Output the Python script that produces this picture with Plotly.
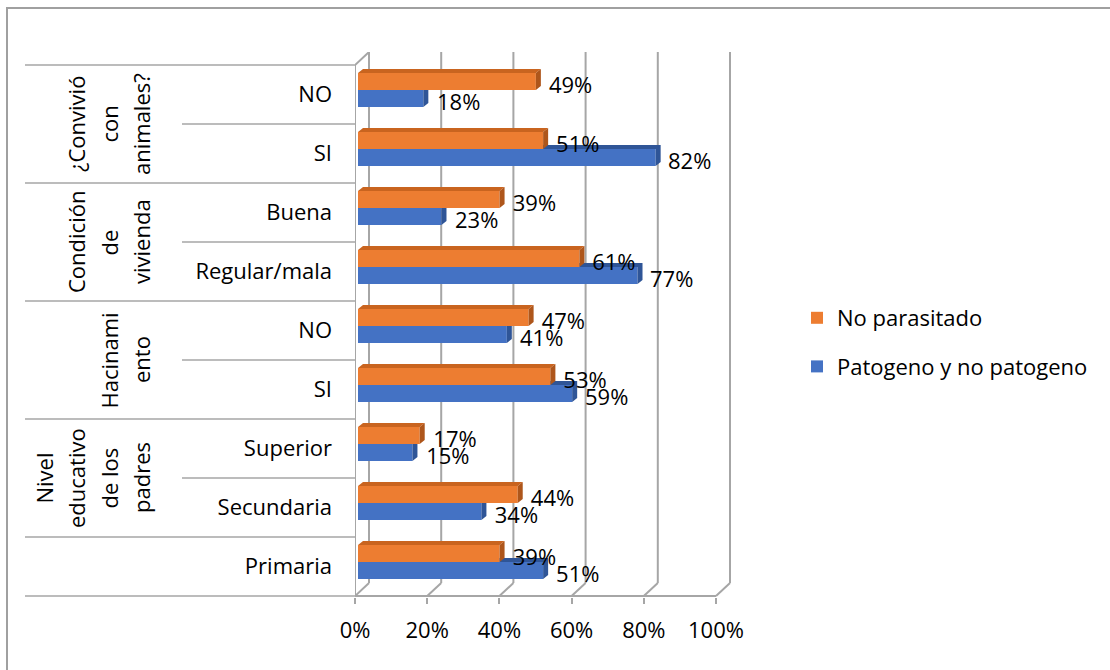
import plotly.graph_objects as go

# ---------------- data ----------------
categories = ["Primaria", "Secundaria", "Superior", "SI", "NO",
              "Regular/mala", "Buena", "SI", "NO"]
no_parasitado = [0.39, 0.44, 0.17, 0.53, 0.47, 0.61, 0.39, 0.51, 0.49]
patogeno = [0.51, 0.34, 0.15, 0.59, 0.41, 0.77, 0.23, 0.82, 0.18]
series_names = ["No parasitado", "Patogeno y no patogeno"]
group_sizes = [1, 2, 2, 2, 2]
group_labels = [[], ["Nivel", "educativo", "de los", "padres"], ["Hacinami", "ento"],
                ["Condición", "de", "vivienda"], ["¿Convivió", "con", "animales?"]]
x_ticks = [0, 0.2, 0.4, 0.6, 0.8, 1.0]
x_tick_labels = ["0%", "20%", "40%", "60%", "80%", "100%"]

# ---------------- style / layout constants ----------------
W, H = 1110, 670
L, R, T, B = 355, 370, 52, 73
PW, PH = W - L - R, H - T - B
FRONT_SCALE = 361.0        # px per 100% on the front axis
BAR_SCALE = 363.0          # px per 100% for the bars
ROW = 59.0                 # px per category row
BAR_SHIFT = 3              # px bars start right of front axis
LBL_SHIFT = 14             # px labels right of bar ends
DEPTH_X, DEPTH_Y = 14, 13  # px chart depth (back wall offset)
FACE_X, FACE_Y = 5, 4      # px bar depth
BW = 0.288
OFF_O, OFF_B = 0.076, -0.212
LBL_DY = -0.1
FONT = "Open Sans"
FS = 22
ORANGE, ORANGE_TOP, ORANGE_SIDE = "#ED7D31", "#C9641F", "#AE561B"
BLUE, BLUE_TOP, BLUE_SIDE = "#4472C4", "#35599C", "#2F5597"
GRID = "#A6A6A6"

n = len(categories)
ypos = list(range(n))
y_lo = -0.5 - 1 / ROW
y_hi = y_lo + PH / ROW

fig = go.Figure()

dx_f = FACE_X / BAR_SCALE
dy_f = FACE_Y / ROW

# faces of blue bars (drawn first)
bx, by = [], []
for i, (vo, vb) in enumerate(zip(no_parasitado, patogeno)):
    yb, yt = i + OFF_B, i + OFF_B + BW
    if vb > vo:
        bx += [vo, vb, vb + dx_f, vo, None]
        by += [yt, yt, yt + dy_f, yt + dy_f, None]
        bx += [vb, vb, vb + dx_f, vb + dx_f, None]
        by += [yb, yt, yt + dy_f, yb + dy_f, None]
    else:
        bx += [vb, vb, vb + dx_f, vb + dx_f, None]
        by += [yb, yt, yt, yb + dy_f, None]
fig.add_trace(go.Scatter(x=bx, y=by, xaxis="x2", mode="lines", fill="toself",
                         fillcolor=BLUE_SIDE, line=dict(width=0, color=BLUE_SIDE),
                         showlegend=False, hoverinfo="skip"))

ox_t, oy_t, ox_s, oy_s = [], [], [], []
for i, vo in enumerate(no_parasitado):
    yb, yt = i + OFF_O, i + OFF_O + BW
    ox_t += [0, vo, vo + dx_f, dx_f, None]
    oy_t += [yt, yt, yt + dy_f, yt + dy_f, None]
    ox_s += [vo, vo, vo + dx_f, vo + dx_f, None]
    oy_s += [yb, yt, yt + dy_f, yb + dy_f, None]
fig.add_trace(go.Scatter(x=ox_t, y=oy_t, xaxis="x2", mode="lines", fill="toself",
                         fillcolor=ORANGE_TOP, line=dict(width=0, color=ORANGE_TOP),
                         showlegend=False, hoverinfo="skip"))
fig.add_trace(go.Scatter(x=ox_s, y=oy_s, xaxis="x2", mode="lines", fill="toself",
                         fillcolor=ORANGE_SIDE, line=dict(width=0, color=ORANGE_SIDE),
                         showlegend=False, hoverinfo="skip"))

# bars
fig.add_trace(go.Bar(y=ypos, x=patogeno, orientation="h", name=series_names[1],
                     xaxis="x2", width=BW, offset=OFF_B, marker_color=BLUE,
                     marker_line_width=0, legendgroup="b", legendrank=2))
fig.add_trace(go.Bar(y=ypos, x=no_parasitado, orientation="h", name=series_names[0],
                     xaxis="x2", width=BW, offset=OFF_O, marker_color=ORANGE,
                     marker_line_width=0, legendgroup="a", legendrank=1))

# data labels
for vals, off in ((no_parasitado, OFF_O), (patogeno, OFF_B)):
    fig.add_trace(go.Scatter(
        x=vals, y=[i + off + BW / 2 + LBL_DY for i in ypos], xaxis="x3",
        mode="text", text=[f"{round(v * 100)}%" for v in vals],
        textposition="middle right", textfont=dict(family=FONT, size=FS, color="#000"),
        showlegend=False, hoverinfo="skip", cliponaxis=False))

# ---------------- axes ----------------
x_front = [0, PW / FRONT_SCALE]
x_bar = [-BAR_SHIFT / BAR_SCALE, (PW - BAR_SHIFT) / BAR_SCALE]
lbl_off = (BAR_SHIFT + LBL_SHIFT) / FRONT_SCALE
x_lbl = [-lbl_off, PW / FRONT_SCALE - lbl_off]

fig.update_layout(
    width=W, height=H, margin=dict(l=L, r=R, t=T, b=B, autoexpand=False),
    paper_bgcolor="white", plot_bgcolor="rgba(0,0,0,0)",
    barmode="overlay",
    font=dict(family=FONT, size=FS, color="#000"),
    xaxis=dict(range=x_front, tickvals=x_ticks, ticktext=x_tick_labels,
               showgrid=False, zeroline=False, showline=False,
               ticks="outside", ticklen=6, tickwidth=2, tickcolor=GRID,
               ticklabelstandoff=8, fixedrange=True),
    xaxis2=dict(range=x_bar, overlaying="x", visible=False, fixedrange=True),
    xaxis3=dict(range=x_lbl, overlaying="x", visible=False, fixedrange=True),
    yaxis=dict(range=[y_lo, y_hi], tickvals=ypos, ticktext=categories,
               showgrid=False, zeroline=False, showline=False, ticks="",
               ticklabelstandoff=22, fixedrange=True),
    legend=dict(x=(797 - L) / PW, y=(H - B - 297) / PH, xanchor="left", yanchor="top",
                font=dict(family=FONT, size=FS, color="#000"),
                traceorder="grouped", tracegroupgap=17, bgcolor="rgba(0,0,0,0)"),
    showlegend=True,
)

# ---------------- 3D walls / gridlines ----------------
DX = DEPTH_X / FRONT_SCALE
DY = DEPTH_Y / ROW
shapes = []
gl = dict(color=GRID, width=2)
for v in x_ticks:
    shapes.append(dict(type="line", xref="x", yref="y", x0=v + DX, x1=v + DX,
                       y0=-0.5 + DY, y1=n - 0.5 + DY, line=gl, layer="below"))
    shapes.append(dict(type="line", xref="x", yref="y", x0=v, x1=v + DX,
                       y0=-0.5, y1=-0.5 + DY, line=gl, layer="below"))
shapes.append(dict(type="line", xref="x", yref="y", x0=0, x1=x_ticks[-1],
                   y0=-0.5, y1=-0.5, line=gl, layer="below"))
shapes.append(dict(type="line", xref="x", yref="y", x0=0, x1=0,
                   y0=-0.5, y1=n - 0.5, line=gl, layer="below"))
shapes.append(dict(type="line", xref="x", yref="y", x0=0, x1=DX,
                   y0=n - 0.5, y1=n - 0.5 + DY, line=gl, layer="below"))

# category separators and group labels
FULL_X = (25 - L) / PW
PART_X = (182 - L) / PW
sep = dict(color=GRID, width=1.5)
boundaries = [-0.5]
start = 0
annotations = []
for size, lines in zip(group_sizes, group_labels):
    for k in range(1, size):
        shapes.append(dict(type="line", xref="paper", yref="y", x0=PART_X, x1=0,
                           y0=start + k - 0.5, y1=start + k - 0.5, line=sep))
    center = start + (size - 1) / 2
    m = len(lines)
    for k, txt in enumerate(lines):
        cx = 141 - (m - 1 - k) * 32.5
        annotations.append(dict(xref="paper", yref="y", x=(cx - L) / PW, y=center,
                                text=txt, textangle=-90, showarrow=False,
                                xanchor="center", yanchor="middle",
                                font=dict(family=FONT, size=FS, color="#000")))
    start += size
    boundaries.append(start - 0.5)
for b in boundaries:
    shapes.append(dict(type="line", xref="paper", yref="y", x0=FULL_X, x1=0,
                       y0=b, y1=b, line=sep))

# outer chart border
shapes.append(dict(type="rect", xref="paper", yref="paper",
                   x0=(7 - L) / PW, x1=(W + 40 - L) / PW,
                   y0=(H - B - (H + 40)) / PH, y1=(H - B - 8) / PH,
                   line=dict(color="#A0A0A0", width=2)))

fig.update_layout(shapes=shapes, annotations=annotations)
fig.write_html("out.html")
